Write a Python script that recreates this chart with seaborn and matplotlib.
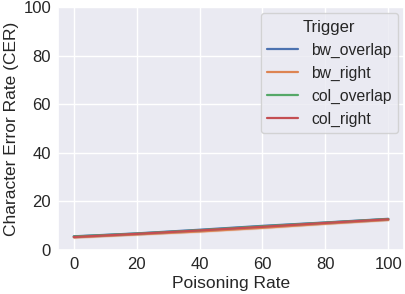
import numpy as np
import pandas as pd
import matplotlib
matplotlib.use("Agg")
import matplotlib.pyplot as plt
import seaborn as sns

rates = [0, 20, 40, 60, 80, 100]
triggers = ["bw_overlap", "bw_right", "col_overlap", "col_right"]

# three runs per trigger, CER (%) at each poisoning rate
bw_overlap = [[5.6, 6.8, 8.3, 9.9, 11.3, 12.8],
              [5.3, 6.5, 8.0, 9.6, 11.0, 12.5],
              [5.9, 7.1, 8.6, 10.2, 11.6, 13.1]]
bw_right = [[5.2, 6.4, 7.6, 9.1, 10.8, 12.4],
            [4.9, 6.1, 7.3, 8.8, 10.5, 12.1],
            [5.5, 6.7, 7.9, 9.4, 11.1, 12.7]]
col_overlap = [[5.5, 6.7, 8.1, 9.7, 11.2, 12.7],
               [5.2, 6.4, 7.8, 9.4, 10.9, 12.4],
               [5.8, 7.0, 8.4, 10.0, 11.5, 13.0]]
col_right = [[5.3, 6.6, 8.0, 9.5, 11.1, 12.6],
             [5.0, 6.3, 7.7, 9.2, 10.8, 12.3],
             [5.6, 6.9, 8.3, 9.8, 11.4, 12.9]]

rows = []
for name, runs in zip(triggers, [bw_overlap, bw_right, col_overlap, col_right]):
    for run in runs:
        for r, v in zip(rates, run):
            rows.append({"Poisoning Rate": r, "CER": v, "Trigger": name})
df = pd.DataFrame(rows)

sns.set_theme(style="darkgrid")
plt.rcParams["font.family"] = ["Liberation Sans", "DejaVu Sans"]
plt.rcParams["xtick.labelsize"] = 12
plt.rcParams["ytick.labelsize"] = 12
plt.rcParams["axes.labelsize"] = 12.5
plt.rcParams["xtick.major.size"] = 0
plt.rcParams["ytick.major.size"] = 0
plt.rcParams["xtick.major.pad"] = 5
plt.rcParams["ytick.major.pad"] = 5
plt.rcParams["axes.labelpad"] = 3

fig, ax = plt.subplots(figsize=(4.06, 2.94), dpi=100)
sns.lineplot(data=df, x="Poisoning Rate", y="CER", hue="Trigger", ax=ax, linewidth=1.6)
ax.set_ylim(0, 100)
ax.set_xticks([0, 20, 40, 60, 80, 100])
ax.set_xlabel("Poisoning Rate")
ax.set_ylabel("Character Error Rate (CER)")
leg = ax.legend(title="Trigger", loc="upper right", fontsize=11.3, title_fontsize=12,
                borderaxespad=0.4)
fig.subplots_adjust(left=0.143, right=0.995, bottom=0.15, top=0.976)
plt.savefig("out.png", dpi=100)
